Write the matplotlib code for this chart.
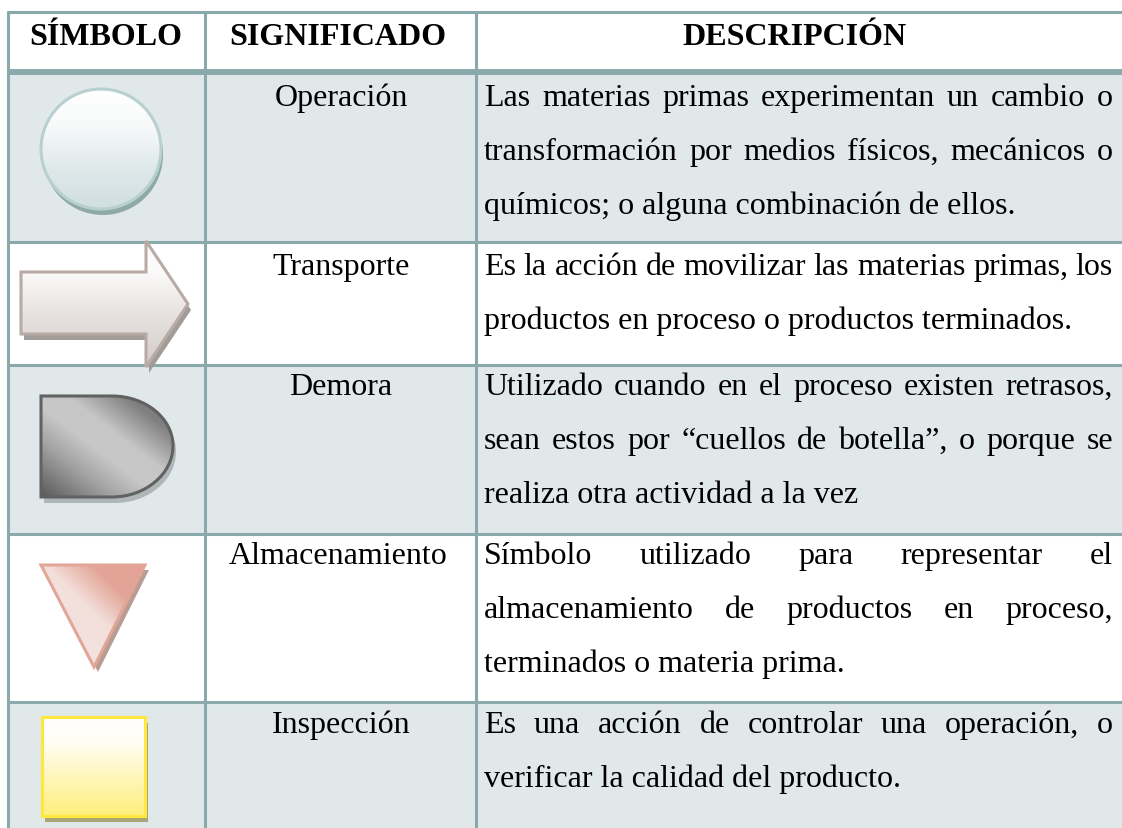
import matplotlib
matplotlib.use('Agg')
import matplotlib.pyplot as plt
import numpy as np
from matplotlib.patches import Rectangle, PathPatch
from matplotlib.path import Path
from matplotlib.colors import LinearSegmentedColormap
from matplotlib.transforms import Affine2D

W, H = 1122, 829
plt.rcParams['font.family'] = ['Liberation Serif', 'DejaVu Serif']

headers = ['SÍMBOLO', 'SIGNIFICADO', 'DESCRIPCIÓN']
header_x = [106, 338, 795]
meanings = ['Operación', 'Transporte', 'Demora', 'Almacenamiento', 'Inspección']
meaning_x = [341, 341, 341, 338, 341]
descriptions = [
    ['Las materias primas experimentan un cambio o',
     'transformación por medios físicos, mecánicos o',
     'químicos; o alguna combinación de ellos.'],
    ['Es la acción de movilizar las materias primas, los',
     'productos en proceso o productos terminados.'],
    ['Utilizado cuando en el proceso existen retrasos,',
     'sean estos por “cuellos de botella”, o porque se',
     'realiza otra actividad a la vez'],
    ['Símbolo utilizado para representar el',
     'almacenamiento de productos en proceso,',
     'terminados o materia prima.'],
    ['Es una acción de controlar una operación, o',
     'verificar la calidad del producto.'],
]
first_baseline = [106, 275, 395, 564, 733]

col_lines = [8.5, 205.5, 476]
row_lines = [13, 243, 366, 535, 703]
head_line = 73
text_left, text_right = 484, 1113
line_color = '#89a9aa'
band_color = '#e0e8ea'
line_gap = 54
fs = 23

fig = plt.figure(figsize=(W / 100, H / 100), dpi=100)
ax = fig.add_axes([0, 0, 1, 1])
ax.axis('off')
renderer = fig.canvas.get_renderer()

# bandas de las filas
for top, bottom in [(73, 243), (366, 535), (703, H + 2)]:
    ax.add_patch(Rectangle((8, top), W - 8, bottom - top, fc=band_color, ec='none', zorder=0))


def word_width(word):
    t = ax.text(0, 0, word, fontsize=fs)
    w = t.get_window_extent(renderer).width
    t.remove()
    return w


def justified(line, y, stretch):
    words = line.split(' ')
    if not stretch:
        ax.text(text_left, y, line, fontsize=fs, va='baseline', ha='left', color='black', zorder=5)
        return
    widths = [word_width(w) for w in words]
    gap = (text_right - text_left - sum(widths)) / (len(words) - 1)
    x = text_left
    for w, wd in zip(words, widths):
        ax.text(x, y, w, fontsize=fs, va='baseline', ha='left', color='black', zorder=5)
        x += wd + gap


def gradient(patch, box, stops, direction):
    x0, x1, y0, y1 = box
    xx, yy = np.meshgrid(np.linspace(0, 1, 200), np.linspace(0, 1, 200))
    val = xx * direction[0] + yy * direction[1]
    val = (val - val.min()) / (val.max() - val.min())
    cmap = LinearSegmentedColormap.from_list('g', stops)
    im = ax.imshow(val, cmap=cmap, extent=(x0, x1, y1, y0), aspect='auto', zorder=3, vmin=0, vmax=1)
    im.set_clip_path(patch)


def shape(path, box, stops, direction, edge, shadow, off, lw=2.2):
    sh = PathPatch(path.transformed(Affine2D().translate(*off)), fc=shadow, ec='none', zorder=2)
    ax.add_patch(sh)
    clip = PathPatch(path, fc='none', ec='none', zorder=3)
    ax.add_patch(clip)
    gradient(clip, box, stops, direction)
    ax.add_patch(PathPatch(path, fc='none', ec=edge, lw=lw, zorder=4))


# operación
circle_path = Path.circle((101, 150), 60)
shape(circle_path, (41, 161, 90, 210),
      [(0, '#ffffff'), (0.3, '#f8fafa'), (0.65, '#e0e9ea'), (1, '#d0dfe1')], (0, 1),
      '#b8d0cf', '#8fa9a8', (2, 6))

# transporte
arrow_pts = [(21, 273), (146, 273), (146, 242), (188, 305), (146, 368), (146, 335), (21, 335)]
shape(Path(arrow_pts + [arrow_pts[0]], closed=True), (21, 188, 242, 368),
      [(0, '#ffffff'), (0.25, '#fbf9f9'), (0.6, '#e6e1df'), (1, '#d3ccc9')], (0, 1),
      '#b8aba5', '#a09c98', (3, 6))

# demora
k = 0.5523
d_verts = [(41, 397), (112, 397),
           (112 + 61 * k, 397), (173, 447 - 50 * k), (173, 447),
           (173, 447 + 50 * k), (112 + 61 * k, 498), (112, 498),
           (41, 498), (41, 397)]
d_codes = [Path.MOVETO, Path.LINETO, Path.CURVE4, Path.CURVE4, Path.CURVE4,
           Path.CURVE4, Path.CURVE4, Path.CURVE4, Path.LINETO, Path.CLOSEPOLY]
shape(Path(d_verts, d_codes), (41, 173, 397, 498),
      [(0, '#5a5a5a'), (0.28, '#a4a4a4'), (0.45, '#c8c8c8'), (0.6, '#c6c6c6'), (0.82, '#808080'), (1, '#707070')],
      (1, -1), '#616161', '#aeb6b8', (3, 6))

# almacenamiento
tri_pts = [(41, 566), (145, 566), (94, 668)]
shape(Path(tri_pts + [tri_pts[0]], closed=True), (41, 145, 566, 668),
      [(0, '#e8c0b8'), (0.3, '#f3e2df'), (0.52, '#f3dfda'), (0.75, '#e3a597'), (1, '#e2a194')],
      (1, -1), '#e2a698', '#b99c94', (4, 5))

# inspección
sq_pts = [(42, 718), (145, 718), (145, 817), (42, 817)]
shape(Path(sq_pts + [sq_pts[0]], closed=True), (42, 145, 718, 817),
      [(0, '#ffffff'), (0.25, '#fffef4'), (0.6, '#fff6bc'), (1, '#ffef7c')], (0, 1),
      '#ffe83c', '#a8a678', (3, 6))

# lineas de la tabla
for x in col_lines:
    ax.plot([x, x], [11.5, H + 2], color=line_color, lw=2.2, solid_capstyle='butt', zorder=1)
for y in row_lines:
    ax.plot([col_lines[0] - 1.5, W], [y, y], color=line_color, lw=2.2, solid_capstyle='butt', zorder=1)
ax.plot([col_lines[0] - 1.5, W], [head_line, head_line], color=line_color, lw=4.3, solid_capstyle='butt', zorder=1)

for name, x in zip(headers, header_x):
    ax.text(x, 45, name, fontsize=fs, fontweight='bold', ha='center', va='baseline', color='black', zorder=5)

for i, name in enumerate(meanings):
    base = first_baseline[i]
    ax.text(meaning_x[i], base, name, fontsize=fs, ha='center', va='baseline', color='black', zorder=5)
    lines = descriptions[i]
    for j, line in enumerate(lines):
        justified(line, base + j * line_gap, j < len(lines) - 1)

ax.set_xlim(0, W)
ax.set_ylim(H, 0)
fig.savefig('out.png', dpi=100)
